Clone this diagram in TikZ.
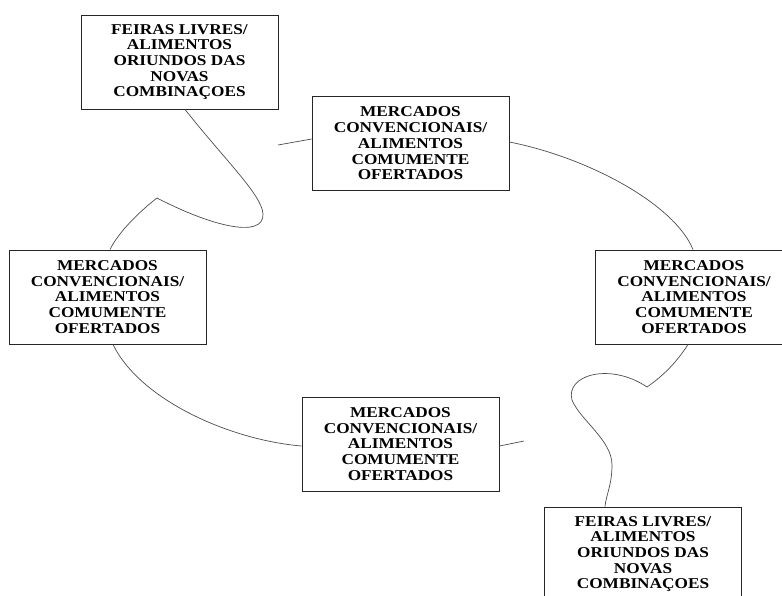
\documentclass[tikz,border=0pt]{standalone}
\usepackage{fontspec}
\setmainfont{Liberation Serif}[FakeStretch=1.15]
\usetikzlibrary{positioning}

\tikzset{
  caixa/.style={draw=black!85,line width=0.9pt,fill=white,minimum width=197pt,
    minimum height=94pt,align=center,inner sep=2pt,
    font=\fontsize{15}{15.7}\selectfont\bfseries},
  liga/.style={draw=black!70,line width=0.7pt}
}

\begin{document}
\begin{tikzpicture}[x=1pt,y=-1pt]
 \useasboundingbox (0,0) rectangle (782,595);
 % caixas
 \node[caixa] (feiras1) at (179.5,62) {FEIRAS LIVRES/\\ALIMENTOS\\ORIUNDOS DAS\\NOVAS\\COMBINAÇOES};
 \node[caixa] (mercTop) at (410.5,143.5) {MERCADOS\\CONVENCIONAIS/\\ALIMENTOS\\COMUMENTE\\OFERTADOS};
 \node[caixa] (mercLeft) at (107.5,297) {MERCADOS\\CONVENCIONAIS/\\ALIMENTOS\\COMUMENTE\\OFERTADOS};
 \node[caixa] (mercRight) at (694,297) {MERCADOS\\CONVENCIONAIS/\\ALIMENTOS\\COMUMENTE\\OFERTADOS};
 \node[caixa] (mercBottom) at (400.5,444) {MERCADOS\\CONVENCIONAIS/\\ALIMENTOS\\COMUMENTE\\OFERTADOS};
 \node[caixa] (feiras2) at (643,554) {FEIRAS LIVRES/\\ALIMENTOS\\ORIUNDOS DAS\\NOVAS\\COMBINAÇOES};
 % pontas soltas
 \coordinate (solta1) at (278,145);
 \coordinate (solta2) at (524,441);
 \coordinate (dobra1) at (157,198);
 \coordinate (dobra2) at (647,387);
 % ligacoes
 \draw[liga] ([xshift=5.5pt]feiras1.south) .. controls (225,160) and (262,195) .. (263,214)
   .. controls (264,238) and (215,228) .. (dobra1)
   .. controls (135,215) and (117,235) .. ([xshift=2.5pt]mercLeft.north);
 \draw[liga] (solta1) -- ([yshift=4.5pt]mercTop.west);
 \draw[liga] ([yshift=1.5pt]mercTop.east) .. controls (590,158) and (675,205) .. ([xshift=-1pt]mercRight.north);
 \draw[liga] ([xshift=5.5pt]mercLeft.south) .. controls (140,400) and (230,440) .. ([yshift=-2pt]mercBottom.west);
 \draw[liga] ([yshift=-2pt]mercBottom.east) -- (solta2);
 \draw[liga] ([xshift=-6pt]mercRight.south) .. controls (675,365) and (660,378) .. (dobra2)
   .. controls (610,362) and (565,375) .. (572,400)
   .. controls (580,420) and (612,440) .. (612,465)
   .. controls (612,485) and (606,495) .. ([xshift=-38pt]feiras2.north);
\end{tikzpicture}
\end{document}
